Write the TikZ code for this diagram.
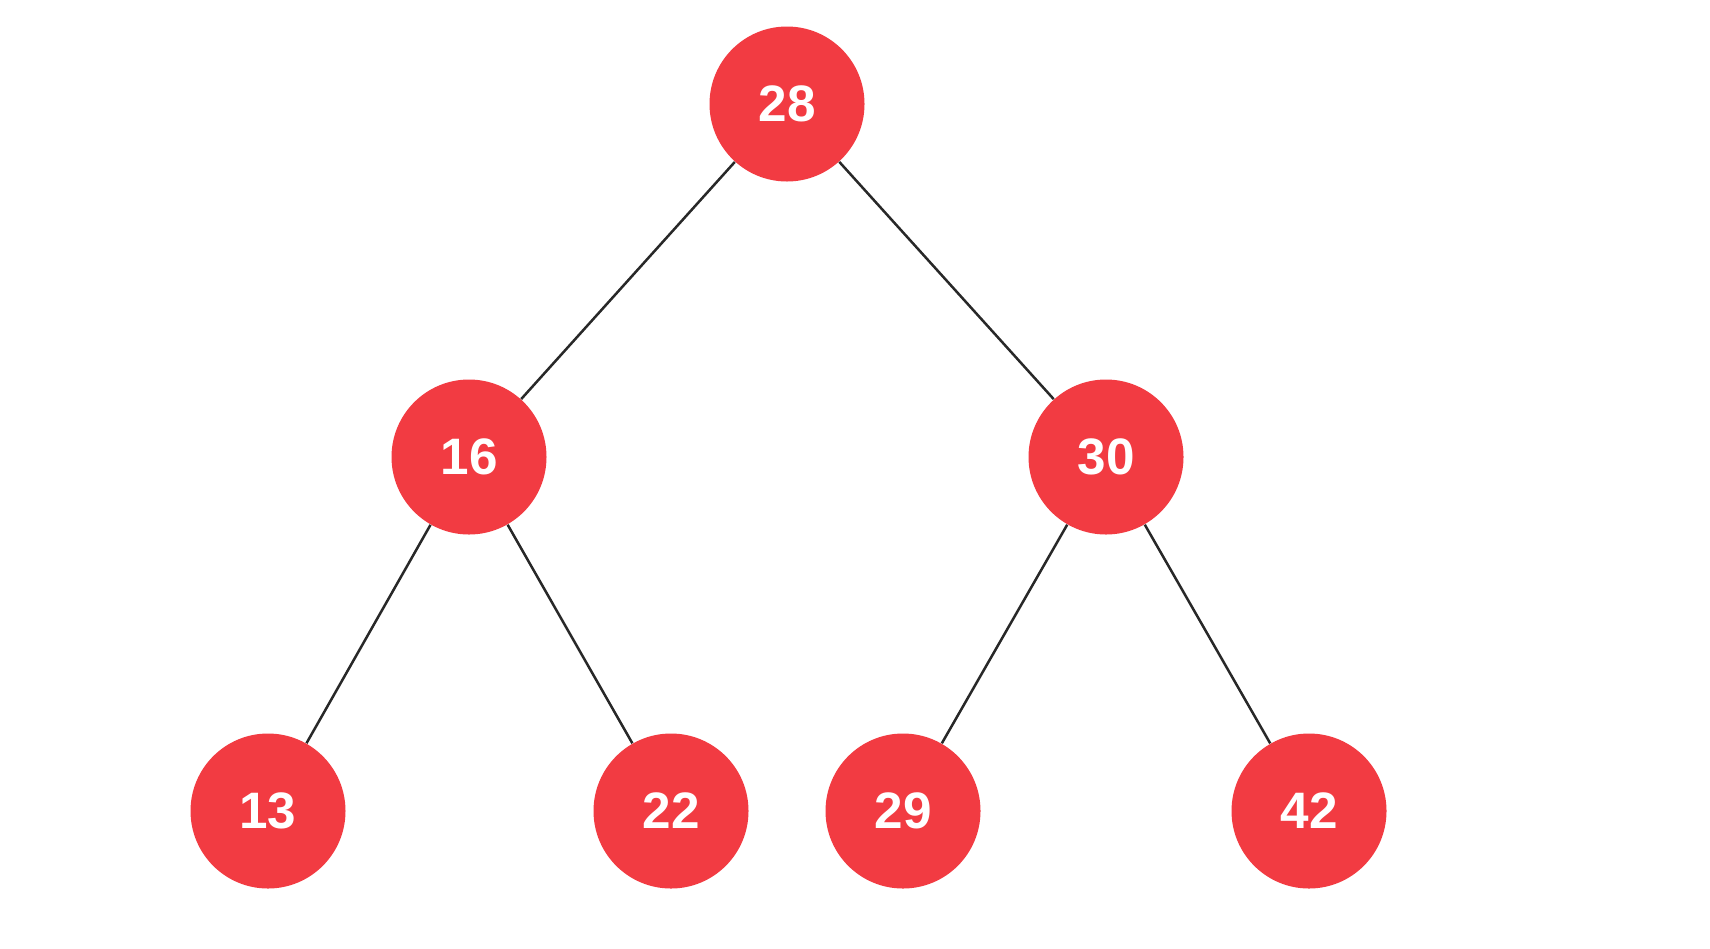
\documentclass[tikz,border=0pt]{standalone}
\usepackage{fontspec}
\setmainfont{Liberation Sans}
\definecolor{nodered}{RGB}{242,59,66}
\definecolor{edgegray}{RGB}{40,40,40}
\begin{document}
\begin{tikzpicture}[x=0.4pt,y=-0.4pt,
  treenode/.style={circle,fill=nodered,minimum size=62pt,inner sep=0pt,text=white,font=\fontsize{20.5}{24}\selectfont\bfseries},
  edge/.style={draw=edgegray,line width=1pt}]
\useasboundingbox (0,0) rectangle (1710,948);
\fill[white] (0,0) rectangle (1710,948);
\node[treenode] (n28) at (787,104) {28};
\node[treenode] (n16) at (469,457) {16};
\node[treenode] (n30) at (1106,457) {30};
\node[treenode] (n13) at (268,811) {13};
\node[treenode] (n22) at (671,811) {22};
\node[treenode] (n29) at (903,811) {29};
\node[treenode] (n42) at (1309,811) {42};
\draw[edge] (n28) -- (n16);
\draw[edge] (n28) -- (n30);
\draw[edge] (n16) -- (n13);
\draw[edge] (n16) -- (n22);
\draw[edge] (n30) -- (n29);
\draw[edge] (n30) -- (n42);
\end{tikzpicture}
\end{document}
